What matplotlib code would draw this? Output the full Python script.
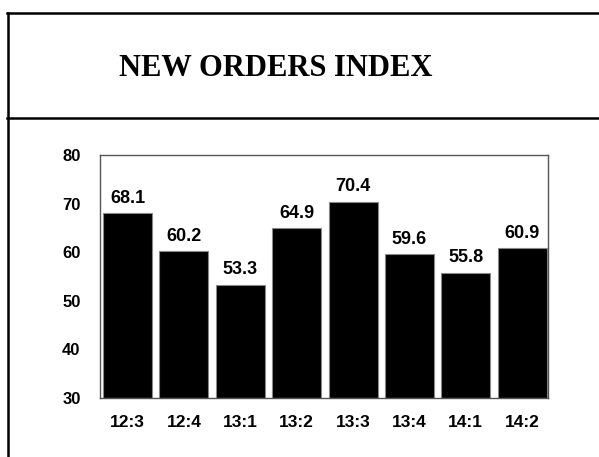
import matplotlib.pyplot as plt
from matplotlib.lines import Line2D

# data
periodos = ['12:3', '12:4', '13:1', '13:2', '13:3', '13:4', '14:1', '14:2']
indice = [68.1, 60.2, 53.3, 64.9, 70.4, 59.6, 55.8, 60.9]
y_ticks = [30, 40, 50, 60, 70, 80]

W, H = 599, 457
fig = plt.figure(figsize=(W / 100, H / 100), dpi=100)

# marco exterior
fig.add_artist(Line2D([7.5 / W, 7.5 / W], [0, 1 - 13 / H], color='black', lw=1.8))
fig.add_artist(Line2D([7 / W, 1], [1 - 13 / H, 1 - 13 / H], color='black', lw=1.8))
fig.add_artist(Line2D([7 / W, 1], [1 - 118 / H, 1 - 118 / H], color='black', lw=1.8))

fig.text(276 / W, 1 - 68 / H, 'NEW ORDERS INDEX', ha='center', va='center',
         family='Liberation Serif', weight='bold', fontsize=22)

ax = fig.add_axes([100 / W, 1 - 398 / H, 448 / W, 243 / H])
x = range(len(periodos))
bars = ax.bar(x, [v - 30 for v in indice], bottom=30, width=0.87,
              color='black', edgecolor='#888888', linewidth=0.8)
for xi, v in zip(x, indice):
    ax.text(xi, v + 1.3, f'{v:.1f}', ha='center', va='bottom',
            family='Liberation Sans', weight='bold', fontsize=13)

ax.set_ylim(30, 80)
ax.set_xlim(-0.49, 7.46)
ax.set_yticks(y_ticks)
ax.set_xticks(list(x))
ax.set_xticklabels(periodos)
ax.tick_params(length=0)
ax.tick_params(axis='y', pad=14, labelsize=12)
ax.tick_params(axis='x', pad=12, labelsize=12.5)
for lbl in ax.get_xticklabels() + ax.get_yticklabels():
    lbl.set_family('Liberation Sans')
    lbl.set_weight('bold')
for s in ax.spines.values():
    s.set_color('#555555')
    s.set_linewidth(1.0)

plt.savefig('out.png', dpi=100)
